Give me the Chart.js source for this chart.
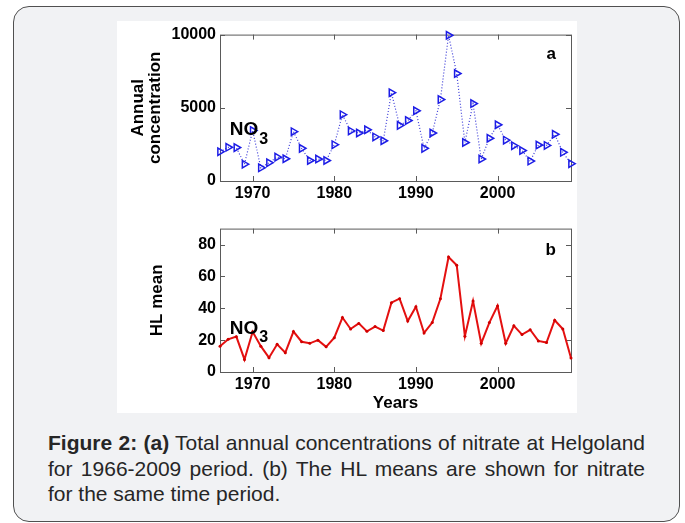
<!DOCTYPE html>
<html>
<head>
<meta charset="utf-8">
<title>Nitrate at Helgoland</title>
<script src="https://cdn.jsdelivr.net/npm/chart.js@4.4.0/dist/chart.umd.min.js"></script>
<style>
  body { margin: 0; width: 685px; height: 523px; position: relative; overflow: hidden; background: #fff;
         font-family: "Liberation Sans", Arial, sans-serif; }
  #frame { position: absolute; left: 13px; top: 6px; width: 667px; height: 516px; box-sizing: border-box;
           border: 1.5px solid #505050; border-radius: 16px; background: #f1f2f4; }
  #panel { position: absolute; left: 117px; top: 21px; width: 460px; height: 392px; background: #fff; }
  canvas { position: absolute; left: 117px; }
  #chartA { top: 21px; }
  #chartB { top: 215px; }
  #caption { position: absolute; left: 48px; top: 430px; width: 597px; color: #262626; font-size: 21px; }
  #caption div { height: 25.5px; line-height: 25.5px; white-space: nowrap; }
  #caption .full { text-align: justify; text-align-last: justify; }
</style>
</head>
<body>
<div id="frame"></div>
<div id="panel"></div>
<canvas id="chartA" width="460" height="190"></canvas>
<canvas id="chartB" width="460" height="198"></canvas>
<div id="caption">
  <div class="full"><b>Figure 2: (a)</b> Total annual concentrations of nitrate at Helgoland</div>
  <div class="full">for 1966-2009 period. (b) The HL means are shown for nitrate</div>
  <div>for the same time period.</div>
</div>
<script>
// yearly series, 1966-2009
const years = [1966, 1967, 1968, 1969, 1970, 1971, 1972, 1973, 1974, 1975,
               1976, 1977, 1978, 1979, 1980, 1981, 1982, 1983, 1984, 1985,
               1986, 1987, 1988, 1989, 1990, 1991, 1992, 1993, 1994, 1995,
               1996, 1997, 1998, 1999, 2000, 2001, 2002, 2003, 2004, 2005,
               2006, 2007, 2008, 2009];
const annualNO3 = [2000, 2300, 2280, 1150, 3450, 900, 1250, 1630, 1520, 3370,
                   2230, 1400, 1500, 1400, 2480, 4530, 3420, 3280, 3500, 3010,
                   2750, 6030, 3800, 4130, 4800, 2230, 3280, 5560, 9950, 7340,
                   2630, 5290, 1500, 2920, 3840, 2790, 2410, 2080, 1360, 2460,
                   2430, 3190, 1960, 1180];
const hlMeanNO3 = [16.2, 20.5, 22.2, 7.9, 25.3, 16.2, 9.0, 17.4, 12.1, 25.4,
                   19.0, 18.0, 20.0, 15.8, 21.5, 34.2, 27.0, 30.5, 25.5, 28.5,
                   26.0, 43.5, 46.0, 32.0, 41.0, 24.5, 31.0, 46.0, 72.2, 67.0,
                   22.5, 44.5, 18.0, 31.0, 41.5, 18.0, 29.0, 23.5, 26.5, 19.5,
                   18.5, 32.5, 27.0, 8.8];
const yearTicks = [1970, 1980, 1990, 2000];
const annualTicks = [0, 5000, 10000];
const hlTicks = [0, 20, 40, 60, 80];

const FONT = '"Liberation Sans", Arial, sans-serif';
const AXIS_COLOR = '#5a5a5a';

// box round the plot with short inward ticks on all four sides
const boxAxes = {
  id: 'boxAxes',
  beforeDatasetsDraw(chart) {
    const { ctx, chartArea: a, scales: { x, y } } = chart;
    const len = 5;
    ctx.save();
    ctx.strokeStyle = AXIS_COLOR;
    ctx.lineWidth = 1;
    ctx.strokeRect(a.left + 0.5, a.top + 0.5, a.width, a.height);
    ctx.beginPath();
    x.ticks.forEach(t => {
      const px = Math.round(x.getPixelForValue(t.value)) + 0.5;
      ctx.moveTo(px, a.bottom); ctx.lineTo(px, a.bottom - len);
      ctx.moveTo(px, a.top); ctx.lineTo(px, a.top + len);
    });
    y.ticks.forEach(t => {
      const py = Math.round(y.getPixelForValue(t.value)) + 0.5;
      ctx.moveTo(a.left, py); ctx.lineTo(a.left + len, py);
      ctx.moveTo(a.right, py); ctx.lineTo(a.right - len, py);
    });
    ctx.stroke();
    ctx.restore();
  },
  afterDatasetsDraw(chart, args, opts) {
    const { ctx, chartArea: a, scales: { x, y } } = chart;
    ctx.save();
    ctx.fillStyle = '#000';
    ctx.textBaseline = 'middle';
    // panel letter
    ctx.font = 'bold 17px ' + FONT;
    ctx.textAlign = 'right';
    ctx.fillText(opts.letter, a.right - 15, a.top + opts.letterDy);
    // NO3 label
    ctx.font = 'bold 19px ' + FONT;
    ctx.textAlign = 'left';
    const lx = x.getPixelForValue(opts.labelAt[0]);
    const ly = y.getPixelForValue(opts.labelAt[1]);
    ctx.fillText('NO', lx, ly);
    const w = ctx.measureText('NO').width;
    ctx.font = 'bold 16px ' + FONT;
    ctx.fillText('3', lx + w + 1, ly + 9);
    ctx.restore();
  }
};

function setTicks(list) {
  return scale => { scale.ticks = list.map(v => ({ value: v })); };
}

function makeChart(id, values, cfg) {
  return new Chart(document.getElementById(id), {
    type: 'line',
    data: {
      datasets: [{
        data: years.map((yr, i) => ({ x: yr, y: values[i] })),
        ...cfg.dataset,
        clip: false
      }]
    },
    options: {
      responsive: false,
      animation: false,
      devicePixelRatio: 1,
      layout: { padding: { top: cfg.padTop, right: 6, bottom: 0, left: 0 } },
      plugins: {
        legend: { display: false },
        tooltip: { enabled: false },
        boxAxes: cfg.notes
      },
      scales: {
        x: {
          type: 'linear',
          min: 1966,
          max: 2009,
          afterBuildTicks: setTicks(yearTicks),
          afterFit: s => { s.height = cfg.xHeight; },
          grid: { display: false, drawTicks: false },
          border: { display: false },
          ticks: { color: '#000', font: { family: FONT, size: 16, weight: 'bold' }, padding: cfg.xPad,
                   maxRotation: 0, autoSkip: false, callback: v => String(v) },
          title: cfg.xTitle || { display: false }
        },
        y: {
          type: 'linear',
          min: 0,
          max: cfg.yMax,
          afterBuildTicks: setTicks(cfg.yTicks),
          afterFit: s => { s.width = 103; },
          grid: { display: false, drawTicks: false },
          border: { display: false },
          ticks: { color: '#000', font: { family: FONT, size: 16, weight: 'bold' }, padding: 4,
                   callback: v => String(v) },
          title: {
            display: true,
            text: cfg.yTitle,
            color: '#000',
            font: { family: FONT, size: 17, weight: 'bold', lineHeight: 1 },
            padding: { top: cfg.yTitlePad, bottom: 0 }
          }
        }
      }
    },
    plugins: [boxAxes]
  });
}

// (a) annual concentration: dotted blue line with right-pointing triangles
makeChart('chartA', annualNO3, {
  dataset: {
    borderColor: '#3b3bd8',
    borderWidth: 1.2,
    borderDash: [1, 2],
    pointStyle: 'triangle',
    rotation: 90,
    pointRadius: 4.3,
    pointBorderWidth: 1.5,
    pointBorderColor: '#1c1ce6',
    pointBackgroundColor: 'rgba(0,0,0,0)',
    tension: 0
  },
  padTop: 11,
  xHeight: 30,
  xPad: 3,
  yMax: 10000,
  yTicks: annualTicks,
  yTitle: ['Annual', 'concentration'],
  yTitlePad: 12.5,
  notes: { letter: 'a', letterDy: 20, labelAt: [1967.2, 3470] }
});

// (b) HL mean: solid red line with small dots
makeChart('chartB', hlMeanNO3, {
  dataset: {
    borderColor: '#e41010',
    borderWidth: 2,
    pointStyle: 'circle',
    pointRadius: 1.5,
    pointBorderWidth: 0,
    pointBackgroundColor: '#d00000',
    tension: 0
  },
  padTop: 13,
  xHeight: 41,
  xPad: 3,
  yMax: 90,
  yTicks: hlTicks,
  yTitle: 'HL mean',
  yTitlePad: 31.5,
  xTitle: {
    display: true,
    text: 'Years',
    color: '#000',
    font: { family: FONT, size: 17, weight: 'bold', lineHeight: 1 },
    padding: { top: 0, bottom: 1.5 }
  },
  notes: { letter: 'b', letterDy: 22, labelAt: [1967.2, 27.2] }
});
</script>
</body>
</html>
